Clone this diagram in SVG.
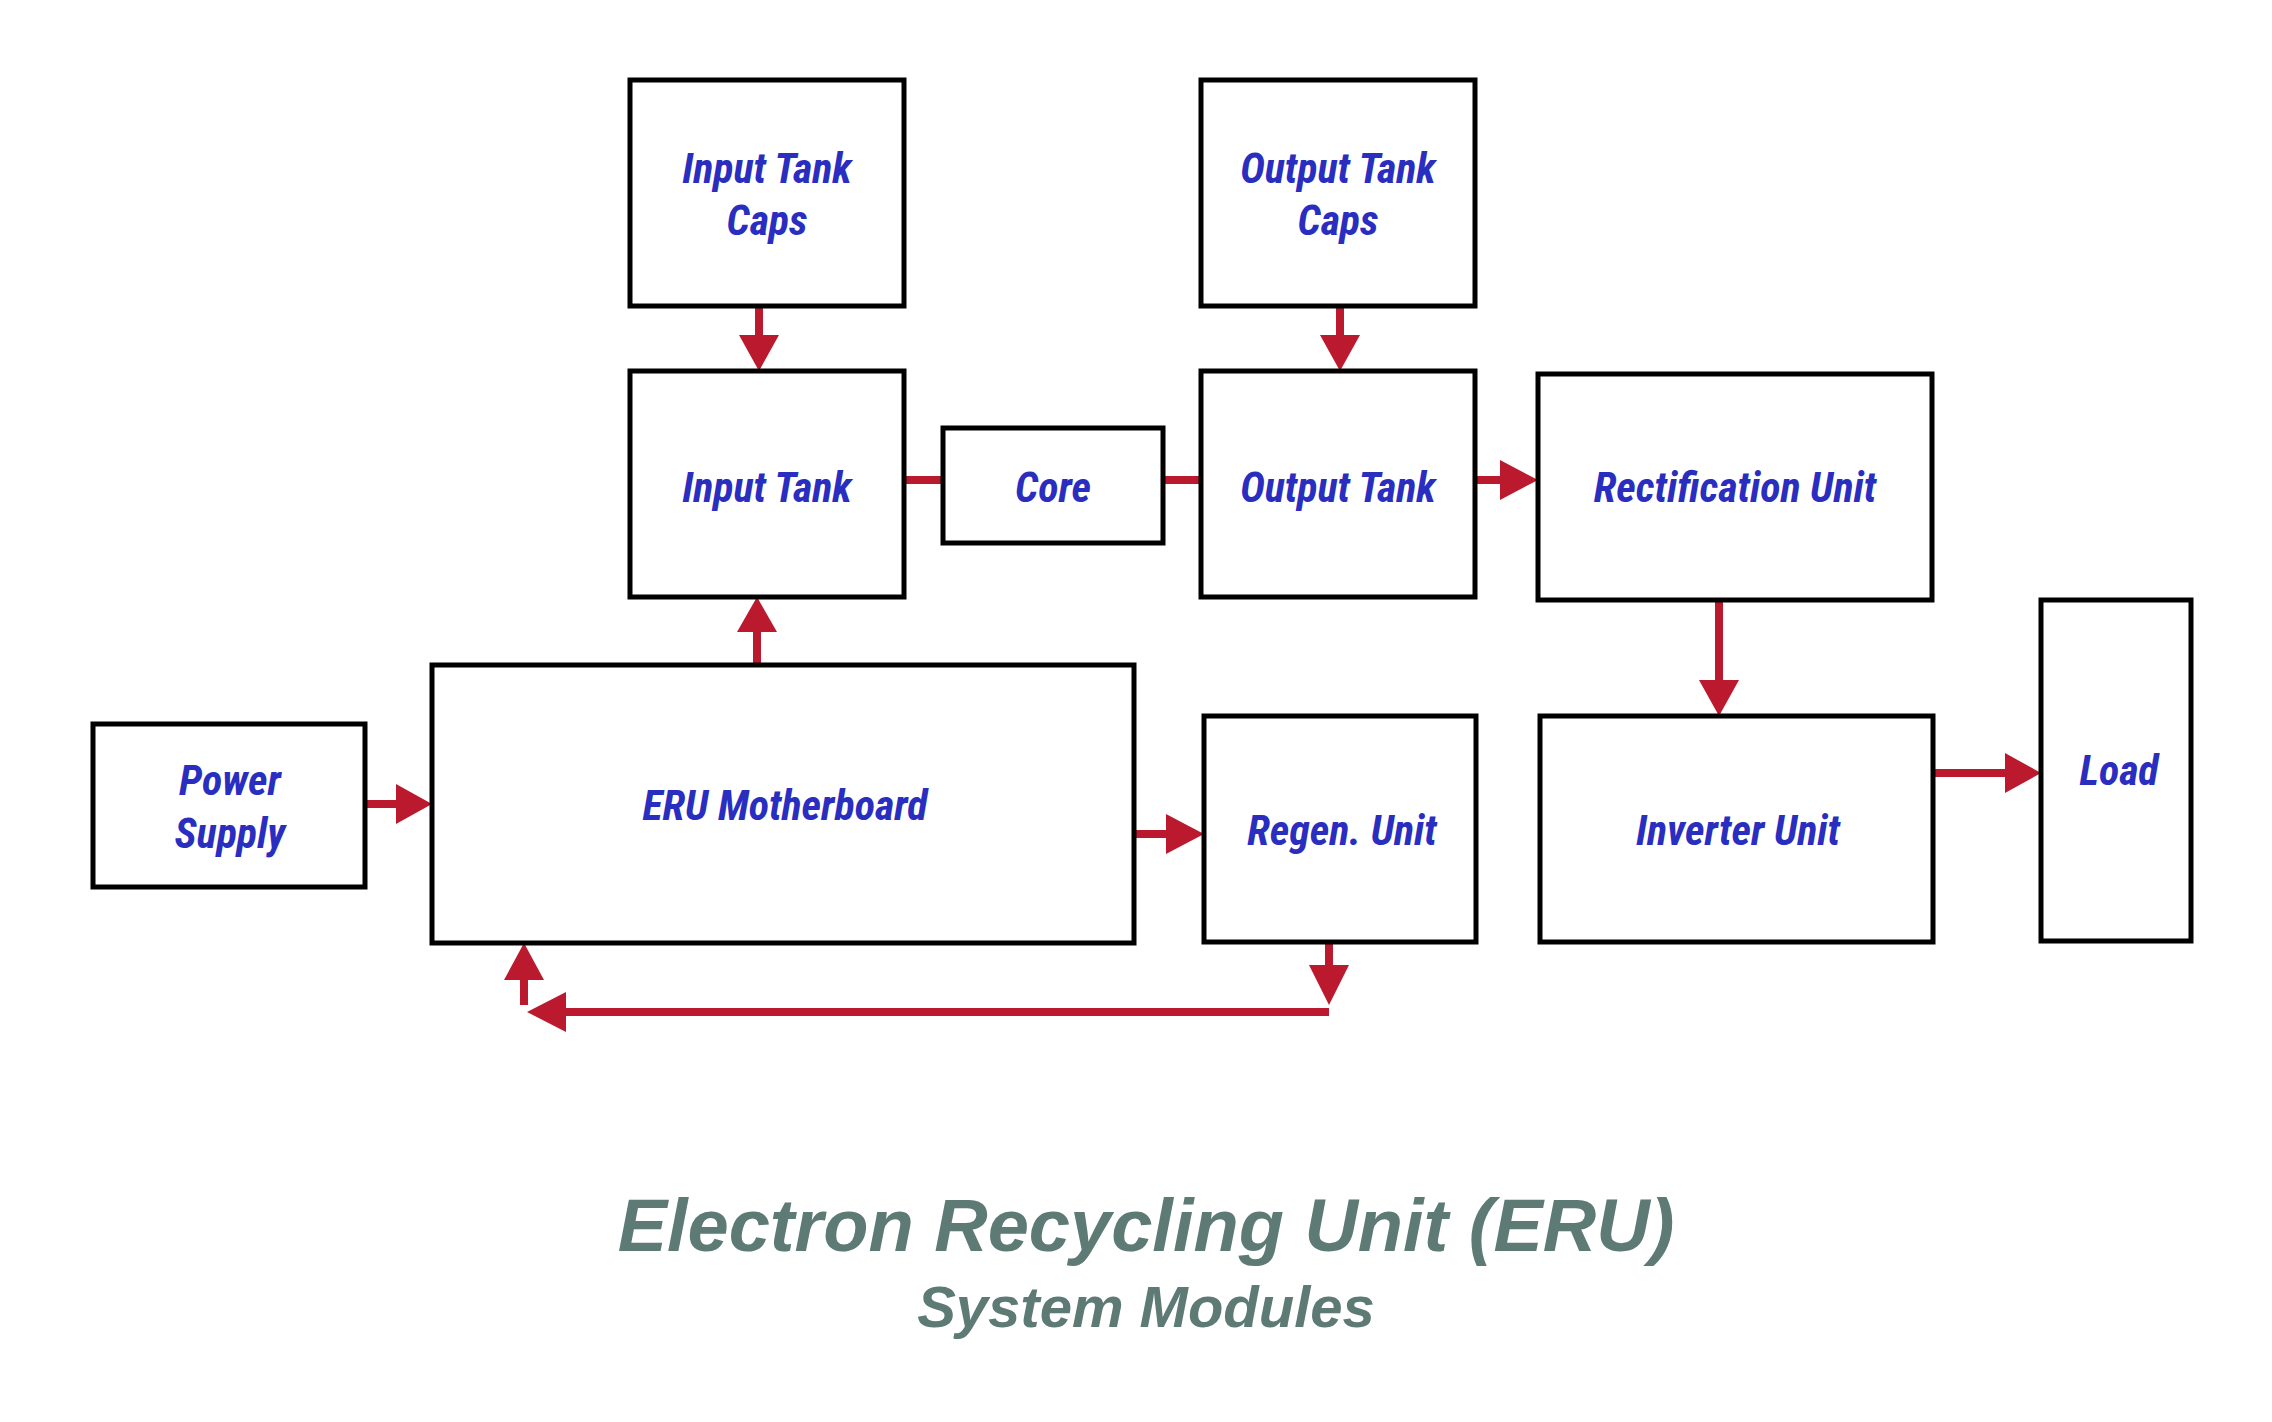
<svg xmlns="http://www.w3.org/2000/svg" width="2272" height="1422" viewBox="0 0 2272 1422">
<style>
.b{fill:#fff;stroke:#000;stroke-width:5}
.t{font-family:"Liberation Sans Narrow","Roboto Condensed","Liberation Sans",sans-serif;font-weight:bold;font-style:italic;font-size:42px;fill:#2a2ec0;text-anchor:middle}
.c{stroke:#bb1a2e;stroke-width:8;fill:none}
.h{fill:#bb1a2e}
.g{font-family:"Liberation Sans Narrow","Liberation Sans",sans-serif;font-weight:bold;font-style:italic;fill:#5d7a74;text-anchor:middle}
</style>
<rect width="2272" height="1422" fill="#fff"/>
<g id="connectors">
<path class="c" d="M759 306V340M1340 306V340M904 480H943M1163 480H1201M1475 480H1505M757 665V625M365 804H400M1134 834H1170M1719 600V685M1933 773H2010M1329 942V970M1329 1012H560M524 1005V975"/>
<path class="h" d="M739 335H779L759 371ZM1320 335H1360L1340 371ZM1500 460V500L1538 480ZM737 632H777L757 597ZM396 784V824L432 804ZM1166 814V854L1204 834ZM1699 680H1739L1719 716ZM2005 753V793L2041 773ZM1309 965H1349L1329 1005ZM566 992V1032L527 1012ZM504 980H544L524 943Z"/>
</g>
<g id="inputTankCaps"><rect class="b" x="630" y="80" width="274" height="226"/><text class="t" x="767" y="183">Input Tank</text><text class="t" x="767" y="235">Caps</text></g>
<g id="outputTankCaps"><rect class="b" x="1201" y="80" width="274" height="226"/><text class="t" x="1338" y="183">Output Tank</text><text class="t" x="1338" y="235">Caps</text></g>
<g id="inputTank"><rect class="b" x="630" y="371" width="274" height="226"/><text class="t" x="767" y="502">Input Tank</text></g>
<g id="core"><rect class="b" x="943" y="428" width="220" height="115"/><text class="t" x="1053" y="502">Core</text></g>
<g id="outputTank"><rect class="b" x="1201" y="371" width="274" height="226"/><text class="t" x="1338" y="502">Output Tank</text></g>
<g id="rectification"><rect class="b" x="1538" y="374" width="394" height="226"/><text class="t" x="1735" y="502">Rectification Unit</text></g>
<g id="powerSupply"><rect class="b" x="93" y="724" width="272" height="163"/><text class="t" x="230" y="795">Power</text><text class="t" x="230" y="848">Supply</text></g>
<g id="motherboard"><rect class="b" x="432" y="665" width="702" height="278"/><text class="t" x="785" y="820">ERU Motherboard</text></g>
<g id="regen"><rect class="b" x="1204" y="716" width="272" height="226"/><text class="t" x="1342" y="845">Regen. Unit</text></g>
<g id="inverter"><rect class="b" x="1540" y="716" width="393" height="226"/><text class="t" x="1738" y="845">Inverter Unit</text></g>
<g id="load"><rect class="b" x="2041" y="600" width="150" height="341"/><text class="t" x="2119" y="785">Load</text></g>
<g id="title"><text class="g" x="1146" y="1251" font-size="74">Electron Recycling Unit (ERU)</text><text class="g" x="1146" y="1327" font-size="58">System Modules</text></g>
</svg>
